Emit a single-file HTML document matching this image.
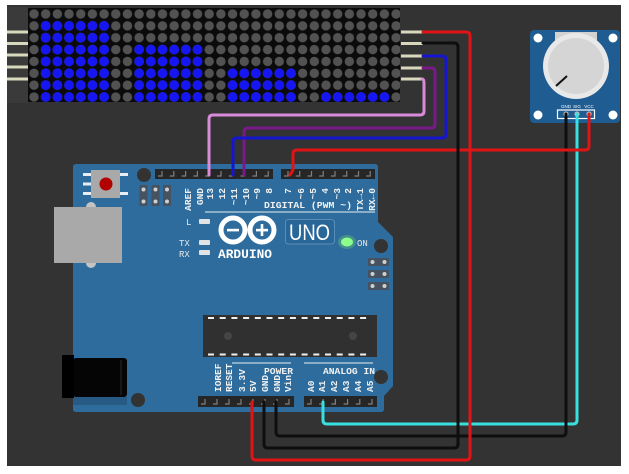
<!DOCTYPE html>
<html><head><meta charset="utf-8"><style>
html,body{margin:0;padding:0;background:#fff;}
svg{display:block;}
.lb{font-family:"Liberation Mono","DejaVu Sans Mono",monospace;font-weight:bold;font-size:9.5px;fill:#f2f2f2;}
.sm{font-family:"Liberation Mono","DejaVu Sans Mono",monospace;font-size:9px;fill:#e8e8e8;}
.w{fill:none;stroke-width:3;stroke-linecap:round;stroke-linejoin:round;}
</style></head><body>
<svg width="629" height="474" viewBox="0 0 629 474" xmlns="http://www.w3.org/2000/svg">
<defs>
<pattern id="g" patternUnits="userSpaceOnUse" x="28.16" y="8.07" width="11.68" height="11.86"><circle cx="5.84" cy="5.93" r="4.7" fill="#525252"/></pattern>
<pattern id="b" patternUnits="userSpaceOnUse" x="28.16" y="8.07" width="11.68" height="11.86"><circle cx="5.84" cy="5.93" r="4.9" fill="#1616f2"/></pattern>
</defs>
<rect x="0" y="0" width="629" height="474" fill="#fff"/>
<rect x="7" y="5" width="614" height="461" fill="#333"/>

<!-- LED matrix -->
<rect x="7" y="7" width="21" height="96" fill="#3a3a3a"/>
<rect x="28" y="8" width="372" height="94" fill="#0b0b0b"/>
<rect x="28" y="8" width="372" height="94" fill="url(#g)"/>
<rect x="39.84" y="19.93" width="70.08" height="83.02" fill="url(#b)"/>
<rect x="133.28" y="43.65" width="70.08" height="59.3" fill="url(#b)"/>
<rect x="226.72" y="67.37" width="70.08" height="35.58" fill="url(#b)"/>
<rect x="320.16" y="91.09" width="70.08" height="11.86" fill="url(#b)"/>
<g fill="#d8d8bc">
<rect x="7" y="30.5" width="21" height="3"/>
<rect x="7" y="42" width="21" height="3"/>
<rect x="7" y="53.5" width="21" height="3"/>
<rect x="7" y="65.5" width="21" height="3"/>
<rect x="7" y="77.5" width="21" height="3"/>
<rect x="401" y="30.5" width="22" height="3"/>
<rect x="401" y="42" width="22" height="3"/>
<rect x="401" y="54.5" width="22" height="3"/>
<rect x="401" y="66.5" width="22" height="3"/>
<rect x="401" y="77.5" width="22" height="3"/>
</g>

<!-- Potentiometer -->
<rect x="530" y="30" width="90" height="93" rx="4" fill="#1e5c92"/>
<g fill="#fff">
<circle cx="538" cy="38" r="4.5"/><circle cx="613" cy="38" r="4.5"/>
<circle cx="538" cy="115" r="4.5"/><circle cx="613" cy="115" r="4.5"/>
</g>
<rect x="555" y="32" width="42" height="12" fill="#d2d2d2"/>
<circle cx="576" cy="66" r="33" fill="#e8e8e8"/>
<circle cx="576" cy="66" r="28" fill="#d5d5d5"/>
<line x1="556" y1="86" x2="567" y2="76" stroke="#111" stroke-width="2"/>
<g font-family="Liberation Sans, sans-serif" font-size="4.5" fill="#fff" text-anchor="middle">
<text x="566" y="108">GND</text><text x="577" y="108">SIG</text><text x="589" y="108">VCC</text>
</g>
<rect x="557.5" y="110" width="37" height="8.5" fill="none" stroke="#fff" stroke-width="1.2"/>
<g fill="#bbb"><circle cx="566" cy="114" r="2.6"/><circle cx="577" cy="114" r="2.6"/><circle cx="589" cy="114" r="2.6"/></g>

<!-- Arduino board -->
<path d="M76,164 H375 Q378,164 378,167 V222 L393,237 V386 L384,396 V409 Q384,412 381,412 H76 Q73,412 73,409 V167 Q73,164 76,164 Z" fill="#2d6c9d"/>
<!-- USB -->
<circle cx="91" cy="207" r="5" fill="#c4c4c4"/>
<circle cx="91" cy="263" r="5" fill="#c4c4c4"/>
<rect x="54" y="207" width="68" height="56" fill="#a9a9a9"/>
<!-- reset -->
<g fill="#e8eef4">
<rect x="83" y="173" width="8" height="3"/><rect x="83" y="182.5" width="8" height="3"/><rect x="83" y="192" width="8" height="3"/>
<rect x="120" y="173" width="8" height="3"/><rect x="120" y="192" width="8" height="3"/>
</g>
<rect x="91" y="170" width="29" height="28" fill="#a9a9a9"/>
<circle cx="106" cy="184" r="6.5" fill="#b00000"/>
<!-- holes -->
<g fill="#333">
<circle cx="144" cy="175" r="7"/><circle cx="381" cy="246" r="7"/>
<circle cx="381" cy="377" r="7"/><circle cx="138" cy="400" r="7"/>
</g>
<!-- ICSP left -->
<g fill="#465260"><rect x="139.5" y="185" width="8" height="21" rx="1"/><rect x="151.5" y="185" width="8" height="21" rx="1"/><rect x="163" y="185" width="8" height="21" rx="1"/></g>
<g fill="#cfcfcf">
<circle cx="143.5" cy="189.5" r="2"/><circle cx="155.5" cy="189.5" r="2"/><circle cx="167" cy="189.5" r="2"/>
<circle cx="143.5" cy="201.5" r="2"/><circle cx="155.5" cy="201.5" r="2"/><circle cx="167" cy="201.5" r="2"/>
</g>
<!-- ICSP right -->
<g fill="#465260"><rect x="368" y="258" width="21" height="8" rx="1"/><rect x="368" y="270" width="21" height="8" rx="1"/><rect x="368" y="282" width="21" height="8" rx="1"/></g>
<g fill="#cfcfcf">
<circle cx="372.5" cy="262" r="2"/><circle cx="384.5" cy="262" r="2"/>
<circle cx="372.5" cy="274" r="2"/><circle cx="384.5" cy="274" r="2"/>
<circle cx="372.5" cy="286" r="2"/><circle cx="384.5" cy="286" r="2"/>
</g>

<!-- headers -->
<g fill="#262626">
<rect x="155" y="169" width="118" height="10"/>
<rect x="281" y="169" width="94" height="10"/>
<rect x="198" y="396" width="96" height="11"/>
<rect x="304" y="396" width="73" height="11"/>
</g>
<g fill="none" stroke="#808080" stroke-width="1.2">
<path d="M158,176 H162 V171 M169.8,176 H173.8 V171 M181.6,176 H185.6 V171 M193.4,176 H197.4 V171 M205.2,176 H209.2 V171 M217,176 H221 V171 M228.8,176 H232.8 V171 M240.6,176 H244.6 V171 M252.4,176 H256.4 V171 M264.2,176 H268.2 V171"/>
<path d="M284,176 H288 V171 M295.7,176 H299.7 V171 M307.5,176 H311.5 V171 M319.2,176 H323.2 V171 M331,176 H335 V171 M342.7,176 H346.7 V171 M354.5,176 H358.5 V171 M366.2,176 H370.2 V171"/>
<path d="M201,404 H205 V399 M213,404 H217 V399 M225,404 H229 V399 M237,404 H241 V399 M249,404 H253 V399 M261,404 H265 V399 M273,404 H277 V399 M285,404 H289 V399"/>
<path d="M307,404 H311 V399 M319.2,404 H323.2 V399 M331.4,404 H335.4 V399 M343.6,404 H347.6 V399 M355.8,404 H359.8 V399 M368,404 H372 V399"/>
</g>

<!-- top labels -->
<g class="lb" text-anchor="end">
<text transform="translate(191,188) rotate(-90)">AREF</text>
<text transform="translate(203,188) rotate(-90)">GND</text>
<text transform="translate(213,188) rotate(-90)">13</text>
<text transform="translate(225,188) rotate(-90)">12</text>
<text transform="translate(237,188) rotate(-90)">~11</text>
<text transform="translate(249,188) rotate(-90)">~10</text>
<text transform="translate(260,188) rotate(-90)">~9</text>
<text transform="translate(272,188) rotate(-90)">8</text>
<text transform="translate(291,188) rotate(-90)">7</text>
<text transform="translate(304,188) rotate(-90)">~6</text>
<text transform="translate(316,188) rotate(-90)">~5</text>
<text transform="translate(328,188) rotate(-90)">4</text>
<text transform="translate(340,188) rotate(-90)">~3</text>
<text transform="translate(351,188) rotate(-90)">2</text>
<text transform="translate(363,188) rotate(-90)">TX→1</text>
<text transform="translate(375,188) rotate(-90)">RX←0</text>
</g>
<text class="lb" x="264" y="208" textLength="88" lengthAdjust="spacingAndGlyphs">DIGITAL (PWM ~)</text>
<line x1="205" y1="212" x2="375" y2="212" stroke="#e8eef4" stroke-width="1"/>

<!-- LEDs and labels -->
<text class="sm" x="186" y="225">L</text>
<text class="sm" x="179" y="246">TX</text>
<text class="sm" x="179" y="257">RX</text>
<g fill="#e2e2e2"><rect x="199" y="219" width="11" height="5" rx="1"/><rect x="199" y="240" width="11" height="5" rx="1"/><rect x="199" y="250" width="11" height="5" rx="1"/></g>

<!-- logo -->
<g fill="none" stroke="#fff" stroke-width="5">
<circle cx="233" cy="230" r="12"/>
<circle cx="262" cy="230" r="12"/>
</g>
<g fill="#fff">
<rect x="227" y="228.8" width="12" height="2.6"/>
<rect x="256" y="228.8" width="12" height="2.6"/>
<rect x="260.7" y="224" width="2.6" height="12"/>
</g>
<text x="218" y="258" font-family="Liberation Mono, monospace" font-weight="bold" font-size="12.5" fill="#fff" textLength="54" lengthAdjust="spacingAndGlyphs">ARDUINO</text>
<rect x="285.5" y="219.5" width="49" height="24.5" rx="3" fill="#2a6799" stroke="#5a8cb8" stroke-width="1"/>
<text x="289" y="240" font-family="Liberation Sans, sans-serif" font-size="22" fill="#fff" textLength="41" lengthAdjust="spacingAndGlyphs">UNO</text>
<ellipse cx="347" cy="242" rx="9" ry="7" fill="#6fd06f" opacity="0.35"/>
<ellipse cx="347" cy="242" rx="6" ry="4.5" fill="#8cff8c"/>
<text class="sm" x="357" y="246">ON</text>

<!-- chip -->
<rect x="203" y="315" width="174" height="42" fill="#303030"/>
<g fill="#f0f0f0">
<rect x="208" y="317" width="6" height="2"/><rect x="219.7" y="317" width="6" height="2"/><rect x="231.4" y="317" width="6" height="2"/><rect x="243.1" y="317" width="6" height="2"/><rect x="254.8" y="317" width="6" height="2"/><rect x="266.5" y="317" width="6" height="2"/><rect x="278.2" y="317" width="6" height="2"/><rect x="289.9" y="317" width="6" height="2"/><rect x="301.6" y="317" width="6" height="2"/><rect x="313.3" y="317" width="6" height="2"/><rect x="325" y="317" width="6" height="2"/><rect x="336.7" y="317" width="6" height="2"/><rect x="348.4" y="317" width="6" height="2"/><rect x="360.1" y="317" width="6" height="2"/>
<rect x="208" y="353.5" width="6" height="2"/><rect x="219.7" y="353.5" width="6" height="2"/><rect x="231.4" y="353.5" width="6" height="2"/><rect x="243.1" y="353.5" width="6" height="2"/><rect x="254.8" y="353.5" width="6" height="2"/><rect x="266.5" y="353.5" width="6" height="2"/><rect x="278.2" y="353.5" width="6" height="2"/><rect x="289.9" y="353.5" width="6" height="2"/><rect x="301.6" y="353.5" width="6" height="2"/><rect x="313.3" y="353.5" width="6" height="2"/><rect x="325" y="353.5" width="6" height="2"/><rect x="336.7" y="353.5" width="6" height="2"/><rect x="348.4" y="353.5" width="6" height="2"/><rect x="360.1" y="353.5" width="6" height="2"/>
</g>
<g fill="#454545"><circle cx="228" cy="336" r="4"/><circle cx="353" cy="336" r="4"/></g>

<!-- bottom labels -->
<line x1="232" y1="363" x2="291" y2="363" stroke="#e8eef4" stroke-width="1"/>
<line x1="304" y1="363" x2="373" y2="363" stroke="#e8eef4" stroke-width="1"/>
<text class="lb" x="264" y="374" textLength="29" lengthAdjust="spacingAndGlyphs">POWER</text>
<text class="lb" x="323" y="374" textLength="52" lengthAdjust="spacingAndGlyphs">ANALOG IN</text>
<g class="lb" text-anchor="start">
<text transform="translate(221,392) rotate(-90)">IOREF</text>
<text transform="translate(232,392) rotate(-90)">RESET</text>
<text transform="translate(245,392) rotate(-90)">3.3V</text>
<text transform="translate(256,392) rotate(-90)">5V</text>
<text transform="translate(268,392) rotate(-90)">GND</text>
<text transform="translate(280,392) rotate(-90)">GND</text>
<text transform="translate(291,392) rotate(-90)">Vin</text>
<text transform="translate(314,392) rotate(-90)">A0</text>
<text transform="translate(325,392) rotate(-90)">A1</text>
<text transform="translate(337,392) rotate(-90)">A2</text>
<text transform="translate(349,392) rotate(-90)">A3</text>
<text transform="translate(361,392) rotate(-90)">A4</text>
<text transform="translate(373,392) rotate(-90)">A5</text>
</g>

<!-- power jack -->
<rect x="73" y="397" width="54" height="8" fill="#275b85"/>
<rect x="73" y="358" width="54" height="39" rx="3" fill="#050505"/>
<rect x="62" y="355" width="12" height="43" fill="#000"/>
<line x1="121" y1="360" x2="121" y2="395" stroke="#2a2a2a" stroke-width="1"/>

<!-- wires from pot -->
<path class="w" stroke="#38e0e0" d="M577,114 V420 Q577,424 573,424 H327 Q323,424 323,420 V402"/>
<path class="w" stroke="#0e0e0e" d="M566,114 V432 Q566,436 562,436 H280 Q276,436 276,432 V402"/>
<path class="w" stroke="#e01414" d="M589,114 V146 Q589,150 585,150 H297 Q293,150 293,154 V170 L290,175"/>
<!-- wires from matrix -->
<path class="w" stroke="#d98ad9" d="M422,79 Q424,79 424,83 V111 Q424,115 420,115 H213 Q209,115 209,119 V175"/>
<path class="w" stroke="#7a1a8a" d="M423,68 H431 Q435,68 435,72 V124 Q435,128 431,128 H248 Q244,128 244,132 V175"/>
<path class="w" stroke="#1515d0" d="M423,56 H442 Q446,56 446,60 V134 Q446,138 442,138 H237 Q233,138 233,142 V175"/>
<path class="w" stroke="#0e0e0e" d="M423,43 H454 Q458,43 458,47 V444 Q458,448 454,448 H268 Q264,448 264,444 V402"/>
<path class="w" stroke="#e01414" d="M423,32 H466 Q470,32 470,36 V456 Q470,460 466,460 H256 Q252,460 252,456 V402"/>
</svg>
</body></html>
